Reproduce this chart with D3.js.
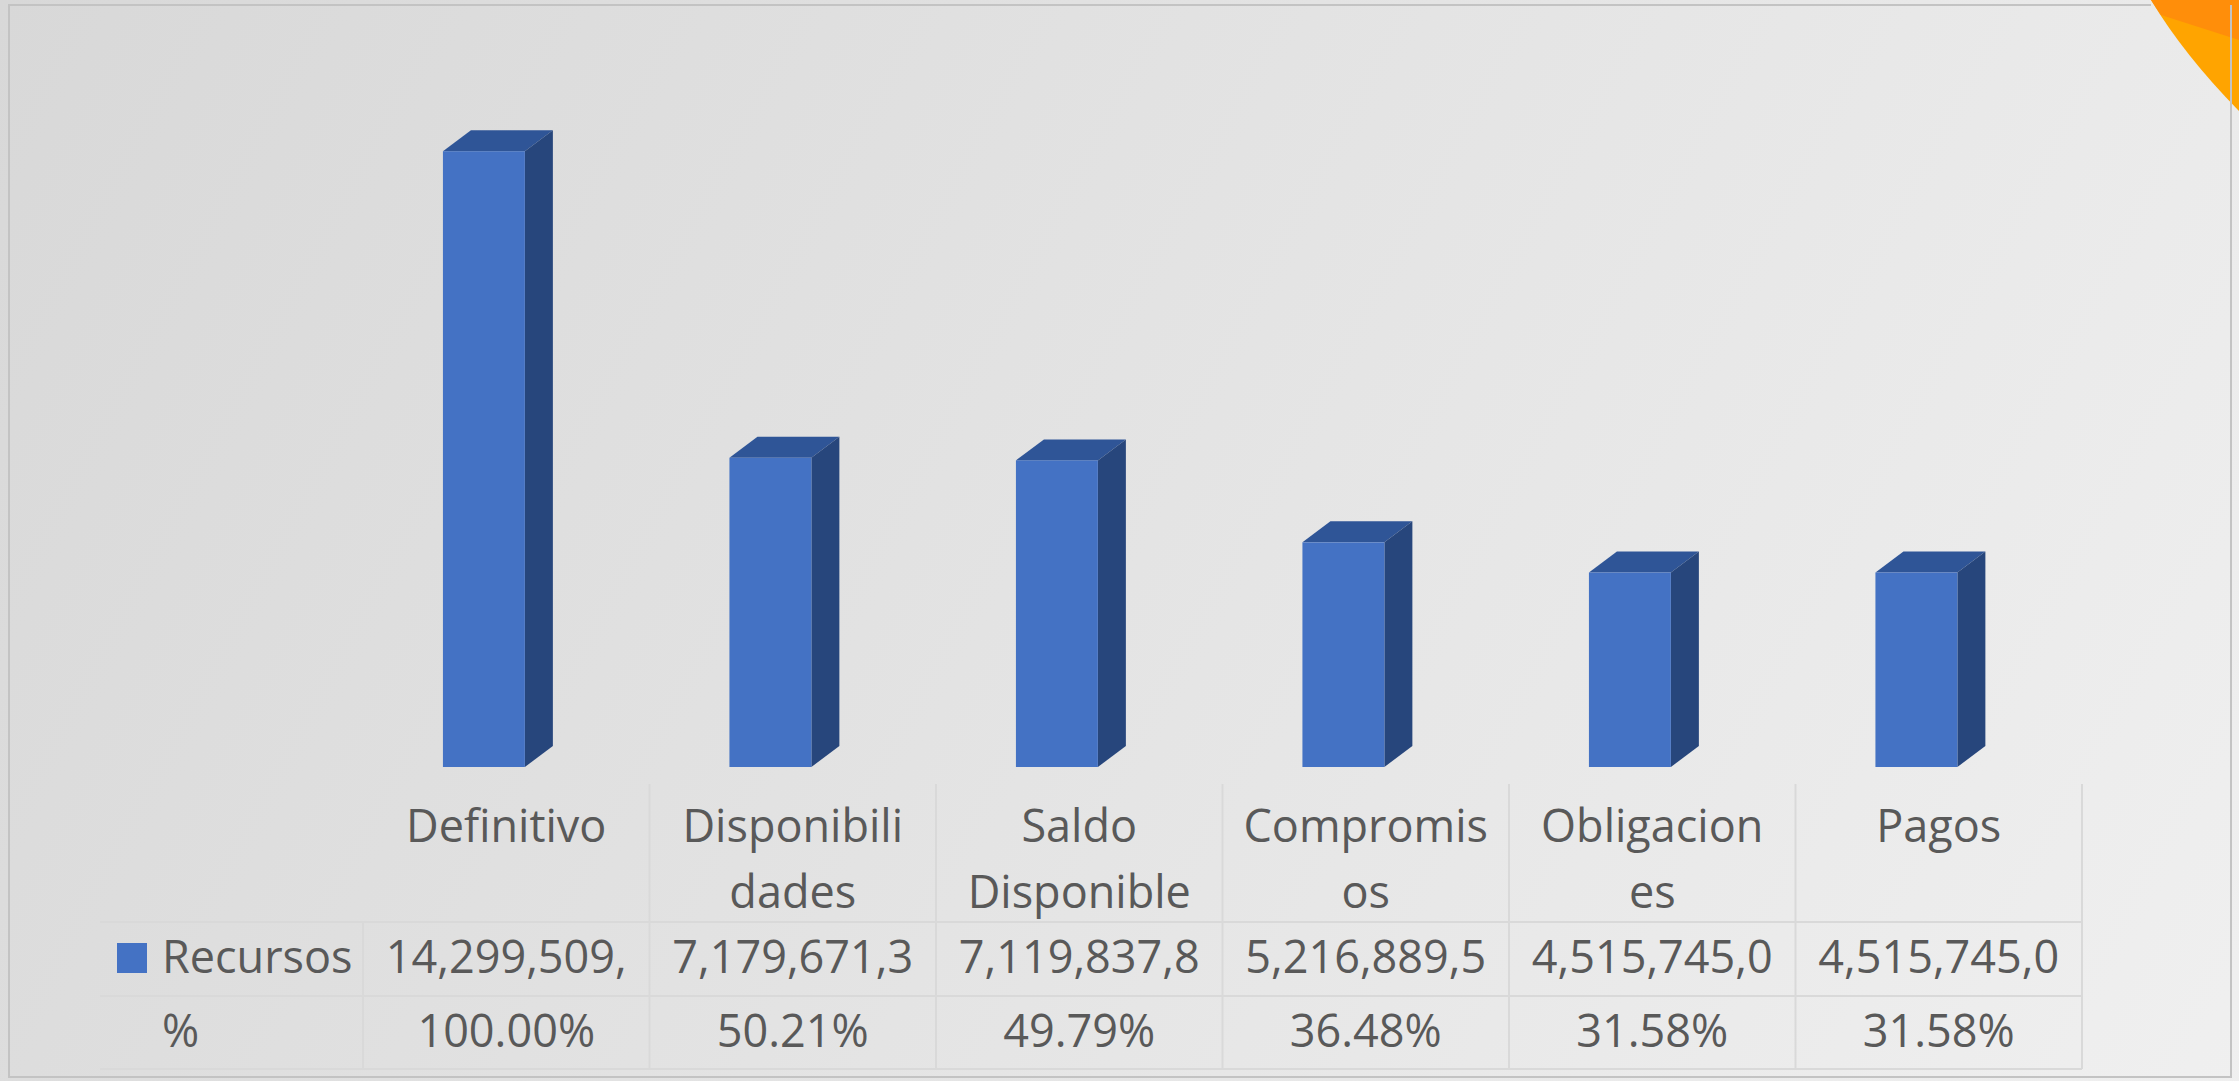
<!DOCTYPE html>
<html>
<head>
<meta charset="utf-8">
<script src="https://cdn.jsdelivr.net/npm/d3@7"></script>
<style>
  html, body { margin: 0; padding: 0; background: #dedede; }
  svg { display: block; }
  text { font-family: "Open Sans", "Noto Sans", sans-serif; fill: #595959; }
</style>
</head>
<body>
<script>
// chart data
const categories = ["Definitivo", "Disponibilidades", "Saldo Disponible", "Compromisos", "Obligaciones", "Pagos"];
const labelLines = [["Definitivo"], ["Disponibili", "dades"], ["Saldo", "Disponible"], ["Compromis", "os"], ["Obligacion", "es"], ["Pagos"]];
const recursos = [14299509, 7179671.3, 7119837.8, 5216889.5, 4515745.0, 4515745.0];
const recursosText = ["14,299,509,", "7,179,671,3", "7,119,837,8", "5,216,889,5", "4,515,745,0", "4,515,745,0"];
const pctText = ["100.00%", "50.21%", "49.79%", "36.48%", "31.58%", "31.58%"];
const seriesName = "Recursos";
const pctName = "%";

const width = 2239,
      height = 1081,
      baseY = 767,
      depthX = 28,
      depthY = 21;

const svg = d3.select("body").append("svg")
  .attr("width", width)
  .attr("height", height);

// background gradient
const defs = svg.append("defs");
const grad = defs.append("linearGradient")
  .attr("id", "bg")
  .attr("gradientUnits", "userSpaceOnUse")
  .attr("x1", 0).attr("y1", 0)
  .attr("x2", 2800).attr("y2", 1500);
grad.append("stop").attr("offset", 0).attr("stop-color", "#d8d8d8");
grad.append("stop").attr("offset", 1).attr("stop-color", "#f6f6f6");

svg.append("rect")
  .attr("width", width).attr("height", height)
  .attr("fill", "url(#bg)");

// orange corner decoration
const corner = svg.append("g");
corner.append("path")
  .attr("d", "M2151,0 Q2184,55 2239,111 L2239,0 Z")
  .attr("fill", "#ffa400");
corner.append("path")
  .attr("d", "M2151,0 Q2156,8 2161,15 L2239,40 L2239,0 Z")
  .attr("fill", "#ff8e0a");

// outer frame
const frame = svg.append("g")
  .attr("stroke", "#c3c3c3")
  .attr("stroke-width", 2)
  .attr("fill", "none");
frame.append("path").attr("d", "M2151,5 H9 V1077 H2231 V5");

// scales
const x = d3.scaleBand()
  .domain(categories)
  .range([363, 2082])
  .padding(0);

const y = d3.scaleLinear()
  .domain([0, 16000000])
  .range([baseY, 78]);

const bw = x.bandwidth();
const frontW = bw * 0.286;
const frontOff = bw * 0.279;

// bars (3D columns)
const bars = svg.append("g")
  .selectAll("g")
  .data(categories.map((c, i) => ({ c, v: recursos[i] })))
  .join("g");

bars.append("path")
  .attr("fill", "#2f5597")
  .attr("d", d => {
    const xl = x(d.c) + frontOff, xr = xl + frontW, yt = y(d.v);
    return `M${xl},${yt}L${xl + depthX},${yt - depthY}L${xr + depthX},${yt - depthY}L${xr},${yt}Z`;
  });

bars.append("path")
  .attr("fill", "#27467c")
  .attr("d", d => {
    const xr = x(d.c) + frontOff + frontW, yt = y(d.v);
    return `M${xr},${yt}L${xr + depthX},${yt - depthY}L${xr + depthX},${baseY - depthY}L${xr},${baseY}Z`;
  });

bars.append("rect")
  .attr("fill", "#4472c4")
  .attr("x", d => x(d.c) + frontOff)
  .attr("y", d => y(d.v))
  .attr("width", frontW)
  .attr("height", d => baseY - y(d.v));

// data table
const tTop = 784, row1 = 922, row2 = 996, tBot = 1069, tLeft = 100;
const grid = svg.append("g")
  .attr("stroke", "#d9d9d9")
  .attr("stroke-width", 2)
  .attr("fill", "none");

grid.selectAll("line.v")
  .data(categories)
  .join("line")
  .attr("x1", d => x(d) + bw).attr("x2", d => x(d) + bw)
  .attr("y1", tTop).attr("y2", tBot);

grid.append("line")
  .attr("x1", x.range()[0]).attr("x2", x.range()[0])
  .attr("y1", row1).attr("y2", tBot);

[row1, row2, tBot].forEach(yy => {
  grid.append("line")
    .attr("x1", tLeft).attr("x2", x.range()[1])
    .attr("y1", yy).attr("y2", yy);
});

const fs = 45;

// category header
const head = svg.append("g")
  .selectAll("text")
  .data(categories.map((c, i) => ({ c, lines: labelLines[i] })))
  .join("text")
  .attr("text-anchor", "middle")
  .attr("font-size", fs)
  .attr("x", d => x(d.c) + bw / 2)
  .attr("y", 842);

head.selectAll("tspan")
  .data(d => d.lines.map(l => ({ l, xx: x(d.c) + bw / 2 })))
  .join("tspan")
  .attr("x", d => d.xx)
  .attr("dy", (d, i) => i === 0 ? 0 : 66)
  .text(d => d.l);

// value row
svg.append("g")
  .selectAll("text")
  .data(categories)
  .join("text")
  .attr("text-anchor", "middle")
  .attr("font-size", fs)
  .attr("x", d => x(d) + bw / 2)
  .attr("y", 973)
  .text((d, i) => recursosText[i]);

// percentage row
svg.append("g")
  .selectAll("text")
  .data(categories)
  .join("text")
  .attr("text-anchor", "middle")
  .attr("font-size", fs)
  .attr("x", d => x(d) + bw / 2)
  .attr("y", 1047)
  .text((d, i) => pctText[i]);

// row headers + legend key
svg.append("rect")
  .attr("x", 117).attr("y", 943)
  .attr("width", 30).attr("height", 30)
  .attr("fill", "#4472c4");

svg.append("text")
  .attr("font-size", fs)
  .attr("x", 162).attr("y", 973)
  .text(seriesName);

svg.append("text")
  .attr("font-size", fs)
  .attr("x", 162).attr("y", 1047)
  .text(pctName);
</script>
</body>
</html>
